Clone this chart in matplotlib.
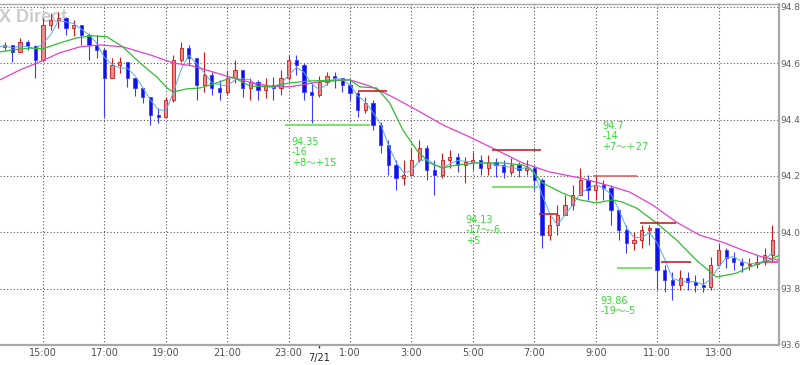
import matplotlib
matplotlib.use("Agg")
import matplotlib.pyplot as plt
import pandas as pd

# 15 minute bars, time in hours counted from 0:00 on 7/20
bar_start = 13.5
bar_step = 0.25
first_open = 94.650

close = [94.658, 94.665, 94.640, 94.676, 94.662, 94.612, 94.736, 94.754, 94.761, 94.725,
         94.736, 94.701, 94.665, 94.647, 94.548, 94.594, 94.605, 94.548, 94.512, 94.480,
         94.416, 94.409, 94.470, 94.612, 94.654, 94.619, 94.523, 94.559, 94.512, 94.498,
         94.548, 94.576, 94.512, 94.534, 94.505, 94.523, 94.512, 94.548, 94.612, 94.594,
         94.498, 94.488, 94.534, 94.555, 94.548, 94.523, 94.495, 94.434, 94.459, 94.381,
         94.310, 94.239, 94.193, 94.203, 94.257, 94.299, 94.221, 94.203, 94.257, 94.267,
         94.239, 94.250, 94.257, 94.228, 94.250, 94.239, 94.214, 94.239, 94.221, 94.228,
         94.186, 93.990, 94.026, 94.061, 94.097, 94.132, 94.186, 94.150, 94.168, 94.157,
         94.079, 94.008, 93.962, 93.973, 94.008, 94.015, 93.866, 93.831, 93.813, 93.838,
         93.823, 93.813, 93.806, 93.884, 93.937, 93.909, 93.894, 93.884, 93.888, 93.894,
         93.919, 93.973]
high = [94.676, 94.676, 94.665, 94.690, 94.683, 94.665, 94.761, 94.779, 94.782, 94.765,
        94.754, 94.733, 94.708, 94.701, 94.654, 94.619, 94.622, 94.594, 94.541, 94.512,
        94.477, 94.441, 94.480, 94.630, 94.676, 94.665, 94.619, 94.640, 94.569, 94.541,
        94.576, 94.612, 94.576, 94.548, 94.541, 94.548, 94.552, 94.576, 94.630, 94.630,
        94.601, 94.530, 94.555, 94.569, 94.569, 94.548, 94.541, 94.505, 94.480, 94.470,
        94.392, 94.328, 94.257, 94.257, 94.299, 94.328, 94.310, 94.257, 94.282, 94.292,
        94.282, 94.267, 94.285, 94.274, 94.274, 94.264, 94.257, 94.264, 94.250, 94.257,
        94.239, 94.193, 94.061, 94.097, 94.132, 94.168, 94.228, 94.203, 94.203, 94.186,
        94.168, 94.079, 94.026, 94.001, 94.026, 94.026, 94.015, 93.884, 93.859, 93.866,
        93.859, 93.848, 93.838, 93.912, 93.962, 93.944, 93.930, 93.909, 93.909, 93.919,
        93.944, 94.026]
low = [94.640, 94.647, 94.605, 94.647, 94.647, 94.548, 94.619, 94.718, 94.725, 94.701,
       94.697, 94.665, 94.612, 94.619, 94.409, 94.559, 94.566, 94.516, 94.484, 94.459,
       94.381, 94.388, 94.409, 94.463, 94.605, 94.594, 94.470, 94.498, 94.488, 94.470,
       94.488, 94.530, 94.480, 94.470, 94.470, 94.477, 94.470, 94.488, 94.541, 94.559,
       94.470, 94.388, 94.480, 94.523, 94.512, 94.498, 94.470, 94.409, 94.424, 94.363,
       94.282, 94.203, 94.150, 94.168, 94.203, 94.250, 94.186, 94.132, 94.193, 94.228,
       94.214, 94.175, 94.221, 94.203, 94.203, 94.196, 94.193, 94.203, 94.196, 94.203,
       94.150, 93.944, 93.973, 93.990, 94.061, 94.079, 94.132, 94.115, 94.115, 94.115,
       94.026, 93.973, 93.926, 93.937, 93.944, 93.955, 93.795, 93.788, 93.759, 93.795,
       93.795, 93.788, 93.788, 93.795, 93.894, 93.873, 93.866, 93.859, 93.866, 93.873,
       93.884, 93.894]

# moving averages
green_t = [13.60, 14.02, 14.58, 15.00, 15.55, 16.11, 16.63, 17.08, 17.60, 18.16, 18.71, 19.04,
           19.23, 19.69, 20.11, 20.66, 21.18, 21.74, 22.39, 23.04, 23.69, 24.99, 25.32, 25.87,
           26.29, 26.72, 27.17, 27.59, 28.02, 28.47, 29.12, 29.97, 30.62, 30.85, 31.27, 31.92,
           32.48, 33.03, 33.55, 33.87, 34.33, 34.98, 35.63, 36.28, 36.93, 37.58, 38.01, 38.66,
           38.98]
green_v = [94.640, 94.647, 94.654, 94.651, 94.672, 94.690, 94.697, 94.694, 94.658, 94.601,
           94.551, 94.512, 94.498, 94.509, 94.512, 94.530, 94.551, 94.519, 94.516, 94.530,
           94.537, 94.541, 94.516, 94.512, 94.459, 94.363, 94.292, 94.246, 94.228, 94.239,
           94.246, 94.246, 94.239, 94.228, 94.175, 94.139, 94.115, 94.104, 94.115, 94.107,
           94.086, 94.033, 93.973, 93.901, 93.841, 93.855, 93.877, 93.901, 93.919]
pink_t = [13.60, 14.25, 14.90, 15.55, 16.20, 16.85, 17.60, 18.48, 19.23, 19.88, 20.53, 21.18,
          21.83, 22.39, 23.04, 24.01, 24.99, 25.64, 26.39, 27.17, 28.02, 28.90, 29.77, 30.62,
          31.50, 32.48, 33.35, 34.10, 34.85, 35.63, 36.38, 37.13, 37.78, 38.43, 38.98]
pink_v = [94.541, 94.576, 94.605, 94.637, 94.658, 94.665, 94.658, 94.630, 94.601, 94.590,
          94.569, 94.548, 94.530, 94.519, 94.516, 94.534, 94.541, 94.519, 94.480, 94.434,
          94.381, 94.338, 94.292, 94.246, 94.214, 94.193, 94.168, 94.143, 94.097, 94.036,
          93.990, 93.965, 93.937, 93.912, 93.901]

# drawn horizontal levels: start, end, price, colour
levels = [
    (22.88, 25.64, 94.381, "#66dd55"),
    (25.25, 26.19, 94.502, "#cc2222"),
    (29.61, 31.21, 94.292, "#cc2222"),
    (29.61, 31.11, 94.161, "#66dd55"),
    (31.17, 31.73, 94.065, "#cc2222"),
    (32.90, 34.33, 94.200, "#dd6666"),
    (34.43, 35.63, 94.033, "#cc2222"),
    (33.71, 34.82, 93.873, "#66dd55"),
    (35.14, 36.12, 93.895, "#cc2222"),
    (38.56, 38.95, 93.895, "#dd33cc"),
]
notes = [
    (23.10, 94.338, "94.35\n-16\n+8〜+15"),
    (28.77, 94.061, "94.13\n-17〜-6\n+5"),
    (33.22, 94.395, "94.7\n-14\n+7〜＋27"),
    (33.16, 93.774, "93.86\n-19〜-5"),
]

hour_ticks = [15, 17, 19, 21, 23, 25, 27, 29, 31, 33, 35, 37]
hour_labels = ["15:00", "17:00", "19:00", "21:00", "23:00", "1:00", "3:00",
               "5:00", "7:00", "9:00", "11:00", "13:00"]
price_ticks = [93.6, 93.8, 94.0, 94.2, 94.4, 94.6, 94.8]

fig = plt.figure(figsize=(8, 3.65), dpi=100)
ax = fig.add_axes([0.0, 0.0548, 0.97375, 0.9342])

t = [bar_start + bar_step * i for i in range(len(close))]
opens = [first_open] + close[:-1]
w = bar_step * 0.42
for ti, o, h, l, c in zip(t, opens, high, low, close):
    if c >= o:
        face, edge = "#f08a8a", "#d01818"
    else:
        face, edge = "#1010e8", "#3c3cff"
    ax.vlines(ti, l, h, color=edge, lw=0.8, zorder=2)
    ax.bar(ti, max(abs(c - o), 0.002), bottom=min(o, c), width=w,
           color=face, edgecolor=edge, linewidth=0.6, zorder=2)

fast = pd.Series(close).rolling(3, min_periods=1).mean()
ax.plot(t, fast, color="#5aaaf0", lw=0.7, zorder=3)
ax.plot(pink_t, pink_v, color="#e040d0", lw=0.9, zorder=3)
ax.plot(green_t, green_v, color="#33bb33", lw=0.9, zorder=3)

for t0, t1, p, col in levels:
    ax.hlines(p, t0, t1, color=col, lw=1.2, zorder=4)
for tx, p, s in notes:
    ax.text(tx, p, s, color="#33dd33", fontsize=7, va="top", ha="left",
            linespacing=1.05, family=["DejaVu Sans", "Noto Sans CJK JP"], zorder=5)

ax.text(-0.001, 0.985, "X Direct", transform=ax.transAxes, color="#cccccc",
        fontsize=13, fontweight="bold", family="Liberation Sans", va="top", ha="left", zorder=1)

ax.set_xlim(13.6, 38.97)
ax.set_ylim(93.6, 94.81)
ax.set_xticks(hour_ticks)
ax.set_xticklabels(hour_labels)
ax.set_yticks(price_ticks)
ax.set_yticklabels([f"{v:.1f}" for v in price_ticks])
ax.yaxis.tick_right()
ax.tick_params(axis="x", length=0, pad=2, labelsize=7, labelcolor="#505050")
ax.tick_params(axis="y", length=0, pad=1, labelsize=6.5, labelcolor="#606060")
ax.grid(True, color="#555555", linestyle=(0, (1, 2)), linewidth=0.8)
ax.set_axisbelow(True)

ax.spines["left"].set_visible(False)
for side in ["right", "bottom", "top"]:
    ax.spines[side].set_color("#a8a8a8")
ax.spines["right"].set_linewidth(1.6)
ax.spines["bottom"].set_linewidth(1.6)
ax.spines["top"].set_linewidth(1.0)

# date marker under midnight
ax.vlines(24, 93.6, 93.59, color="#333333", lw=1, clip_on=False)
ax.annotate("7/21", xy=(24, 93.6), xytext=(0, -5.5), textcoords="offset points",
            ha="center", va="top", fontsize=7, color="#222222")

fig.savefig("out.png", dpi=100)
